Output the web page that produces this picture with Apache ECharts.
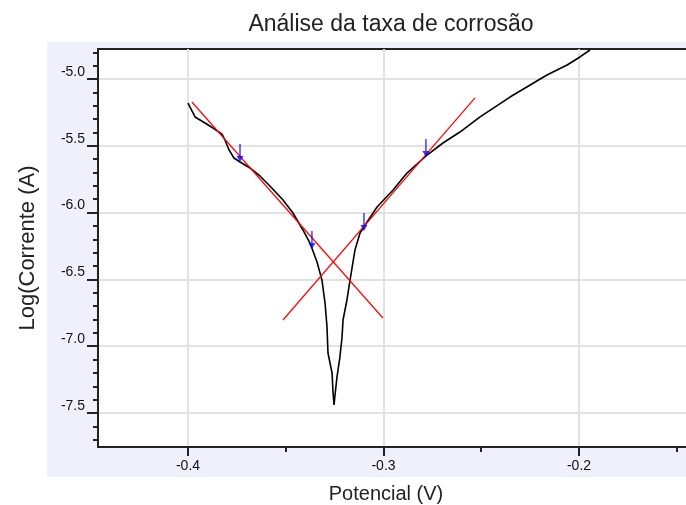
<!DOCTYPE html>
<html>
<head>
<meta charset="utf-8">
<script src="https://cdn.jsdelivr.net/npm/echarts@6/dist/echarts.min.js"></script>
<style>
html,body{margin:0;padding:0;background:#fff;}
#chart{width:686px;height:505px;}
</style>
</head>
<body>
<div id="chart"></div>
<script>
// Polarization curve (black)
var potential = [-0.4000,-0.3964,-0.3913,-0.3872,-0.3826,-0.3811,-0.3790,-0.3765,-0.3734,-0.3683,-0.3632,-0.3581,-0.3514,-0.3463,-0.3412,-0.3376,-0.3340,-0.3315,-0.3299,-0.3289,-0.3284,-0.3263,-0.3258,-0.3253,-0.3248,-0.3238,-0.3223,-0.3212,-0.3207,-0.3187,-0.3171,-0.3156,-0.3146,-0.3120,-0.3084,-0.3033,-0.2951,-0.2880,-0.2777,-0.2696,-0.2609,-0.2506,-0.2353,-0.2164,-0.2061,-0.1995,-0.1944];
var logCurrent = [-5.180,-5.284,-5.329,-5.367,-5.412,-5.457,-5.531,-5.591,-5.621,-5.666,-5.726,-5.801,-5.906,-6.003,-6.130,-6.228,-6.370,-6.504,-6.677,-6.856,-7.051,-7.201,-7.350,-7.440,-7.365,-7.231,-7.081,-6.931,-6.804,-6.654,-6.504,-6.370,-6.280,-6.153,-6.070,-5.958,-5.831,-5.704,-5.569,-5.479,-5.397,-5.284,-5.135,-4.970,-4.895,-4.835,-4.783];
// Tafel fit lines (red)
var cathodicFitV = [-0.3980, -0.3003];
var cathodicFitLog = [-5.172, -6.789];
var anodicFitV = [-0.3514, -0.2532];
var anodicFitLog = [-6.804, -5.142];
// Fit-range markers (blue arrows)
var arrowV = [-0.3734, -0.3366, -0.3100, -0.2783];
var arrowLog = [-5.621, -6.272, -6.138, -5.584];
// Ticks
var xMajorTicks = [-0.4, -0.3, -0.2];
var xMinorTicks = [-0.35, -0.25, -0.15];
var yMajorTicks = [-7.5, -7.0, -6.5, -6.0, -5.5, -5.0];
var yMinorTicks = [-7.7, -7.6, -7.4, -7.3, -7.2, -7.1, -6.9, -6.8, -6.7, -6.6, -6.4, -6.3, -6.2, -6.1, -5.9, -5.8, -5.7, -5.6, -5.4, -5.3, -5.2, -5.1, -4.9, -4.8];

var X_MIN = -0.44604, X_MAX = -0.14373, Y_MIN = -7.7545, Y_MAX = -4.7754;

function zip(a, b) { return a.map(function (v, i) { return [v, b[i]]; }); }

var FONT = '"Liberation Sans", Arial, sans-serif';
var chart = echarts.init(document.getElementById('chart'), null, {renderer: 'canvas'});
var option = {
  animation: false,
  backgroundColor: '#ffffff',
  title: {
    text: 'Análise da taxa de corrosão',
    left: 386, top: 8, textAlign: 'center',
    textStyle: {fontFamily: FONT, fontSize: 23, fontWeight: 'normal', color: '#222'}
  },
  graphic: [{
    type: 'rect', z: -10, silent: true,
    shape: {x: 47, y: 42, width: 640, height: 435},
    style: {fill: '#eff0fb'}
  }],
  grid: {
    left: 98, top: 49, right: -3, bottom: 58,
    outerBoundsMode: 'none', containLabel: false,
    show: true, backgroundColor: '#ffffff', borderColor: '#222', borderWidth: 2
  },
  xAxis: [{
    type: 'value', min: X_MIN, max: X_MAX,
    name: 'Potencial (V)', nameLocation: 'middle', nameGap: 37,
    nameTextStyle: {fontFamily: FONT, fontSize: 20, color: '#222', padding: [0, 15, 0, 0]},
    axisLine: {show: true, onZero: false, lineStyle: {color: '#222', width: 2}},
    axisTick: {show: true, inside: false, length: 9, customValues: xMajorTicks, lineStyle: {color: '#222', width: 2}},
    axisLabel: {customValues: xMajorTicks, margin: 12, fontFamily: FONT, fontSize: 14, color: '#111',
      formatter: function (v) { return v.toFixed(1); }},
    splitLine: {show: true, lineStyle: {color: '#e2e2e2', width: 2}}
  }, {
    type: 'value', min: X_MIN, max: X_MAX, position: 'bottom',
    axisLine: {show: false, onZero: false},
    axisTick: {show: true, length: 5, customValues: xMinorTicks, lineStyle: {color: '#222', width: 2}},
    axisLabel: {show: false},
    splitLine: {show: false}
  }],
  yAxis: [{
    type: 'value', min: Y_MIN, max: Y_MAX,
    name: 'Log(Corrente (A)', nameLocation: 'middle', nameGap: 59,
    nameTextStyle: {fontFamily: FONT, fontSize: 22, color: '#222'},
    axisLine: {show: true, onZero: false, lineStyle: {color: '#222', width: 2}},
    axisTick: {show: true, inside: false, length: 11, customValues: yMajorTicks, lineStyle: {color: '#222', width: 2}},
    axisLabel: {customValues: yMajorTicks, margin: 13, fontFamily: FONT, fontSize: 14, color: '#111',
      verticalAlign: 'bottom', formatter: function (v) { return v.toFixed(1); }},
    splitLine: {show: true, lineStyle: {color: '#e2e2e2', width: 2}}
  }, {
    type: 'value', min: Y_MIN, max: Y_MAX, position: 'left',
    axisLine: {show: false, onZero: false},
    axisTick: {show: true, length: 5, customValues: yMinorTicks, lineStyle: {color: '#222', width: 2}},
    axisLabel: {show: false},
    splitLine: {show: false}
  }],
  series: [{
    type: 'line', name: 'curve', data: zip(potential, logCurrent),
    showSymbol: false, symbol: 'none', z: 3,
    lineStyle: {color: '#000', width: 1.6}
  }, {
    type: 'line', name: 'cathodic fit', data: zip(cathodicFitV, cathodicFitLog),
    showSymbol: false, symbol: 'none', z: 4,
    lineStyle: {color: '#ff0000', width: 1.2}
  }, {
    type: 'line', name: 'anodic fit', data: zip(anodicFitV, anodicFitLog),
    showSymbol: false, symbol: 'none', z: 4,
    lineStyle: {color: '#ff0000', width: 1.2}
  }, {
    type: 'scatter', name: 'markers', data: zip(arrowV, arrowLog), z: 5,
    symbol: 'path://M3.2,0 H4.8 V12 H8 L4,18 L0,12 H3.2 Z',
    symbolSize: [7, 18], symbolOffset: [0, '-50%'],
    itemStyle: {color: '#0000ff'}
  }]
};
chart.setOption(option);
</script>
</body>
</html>
